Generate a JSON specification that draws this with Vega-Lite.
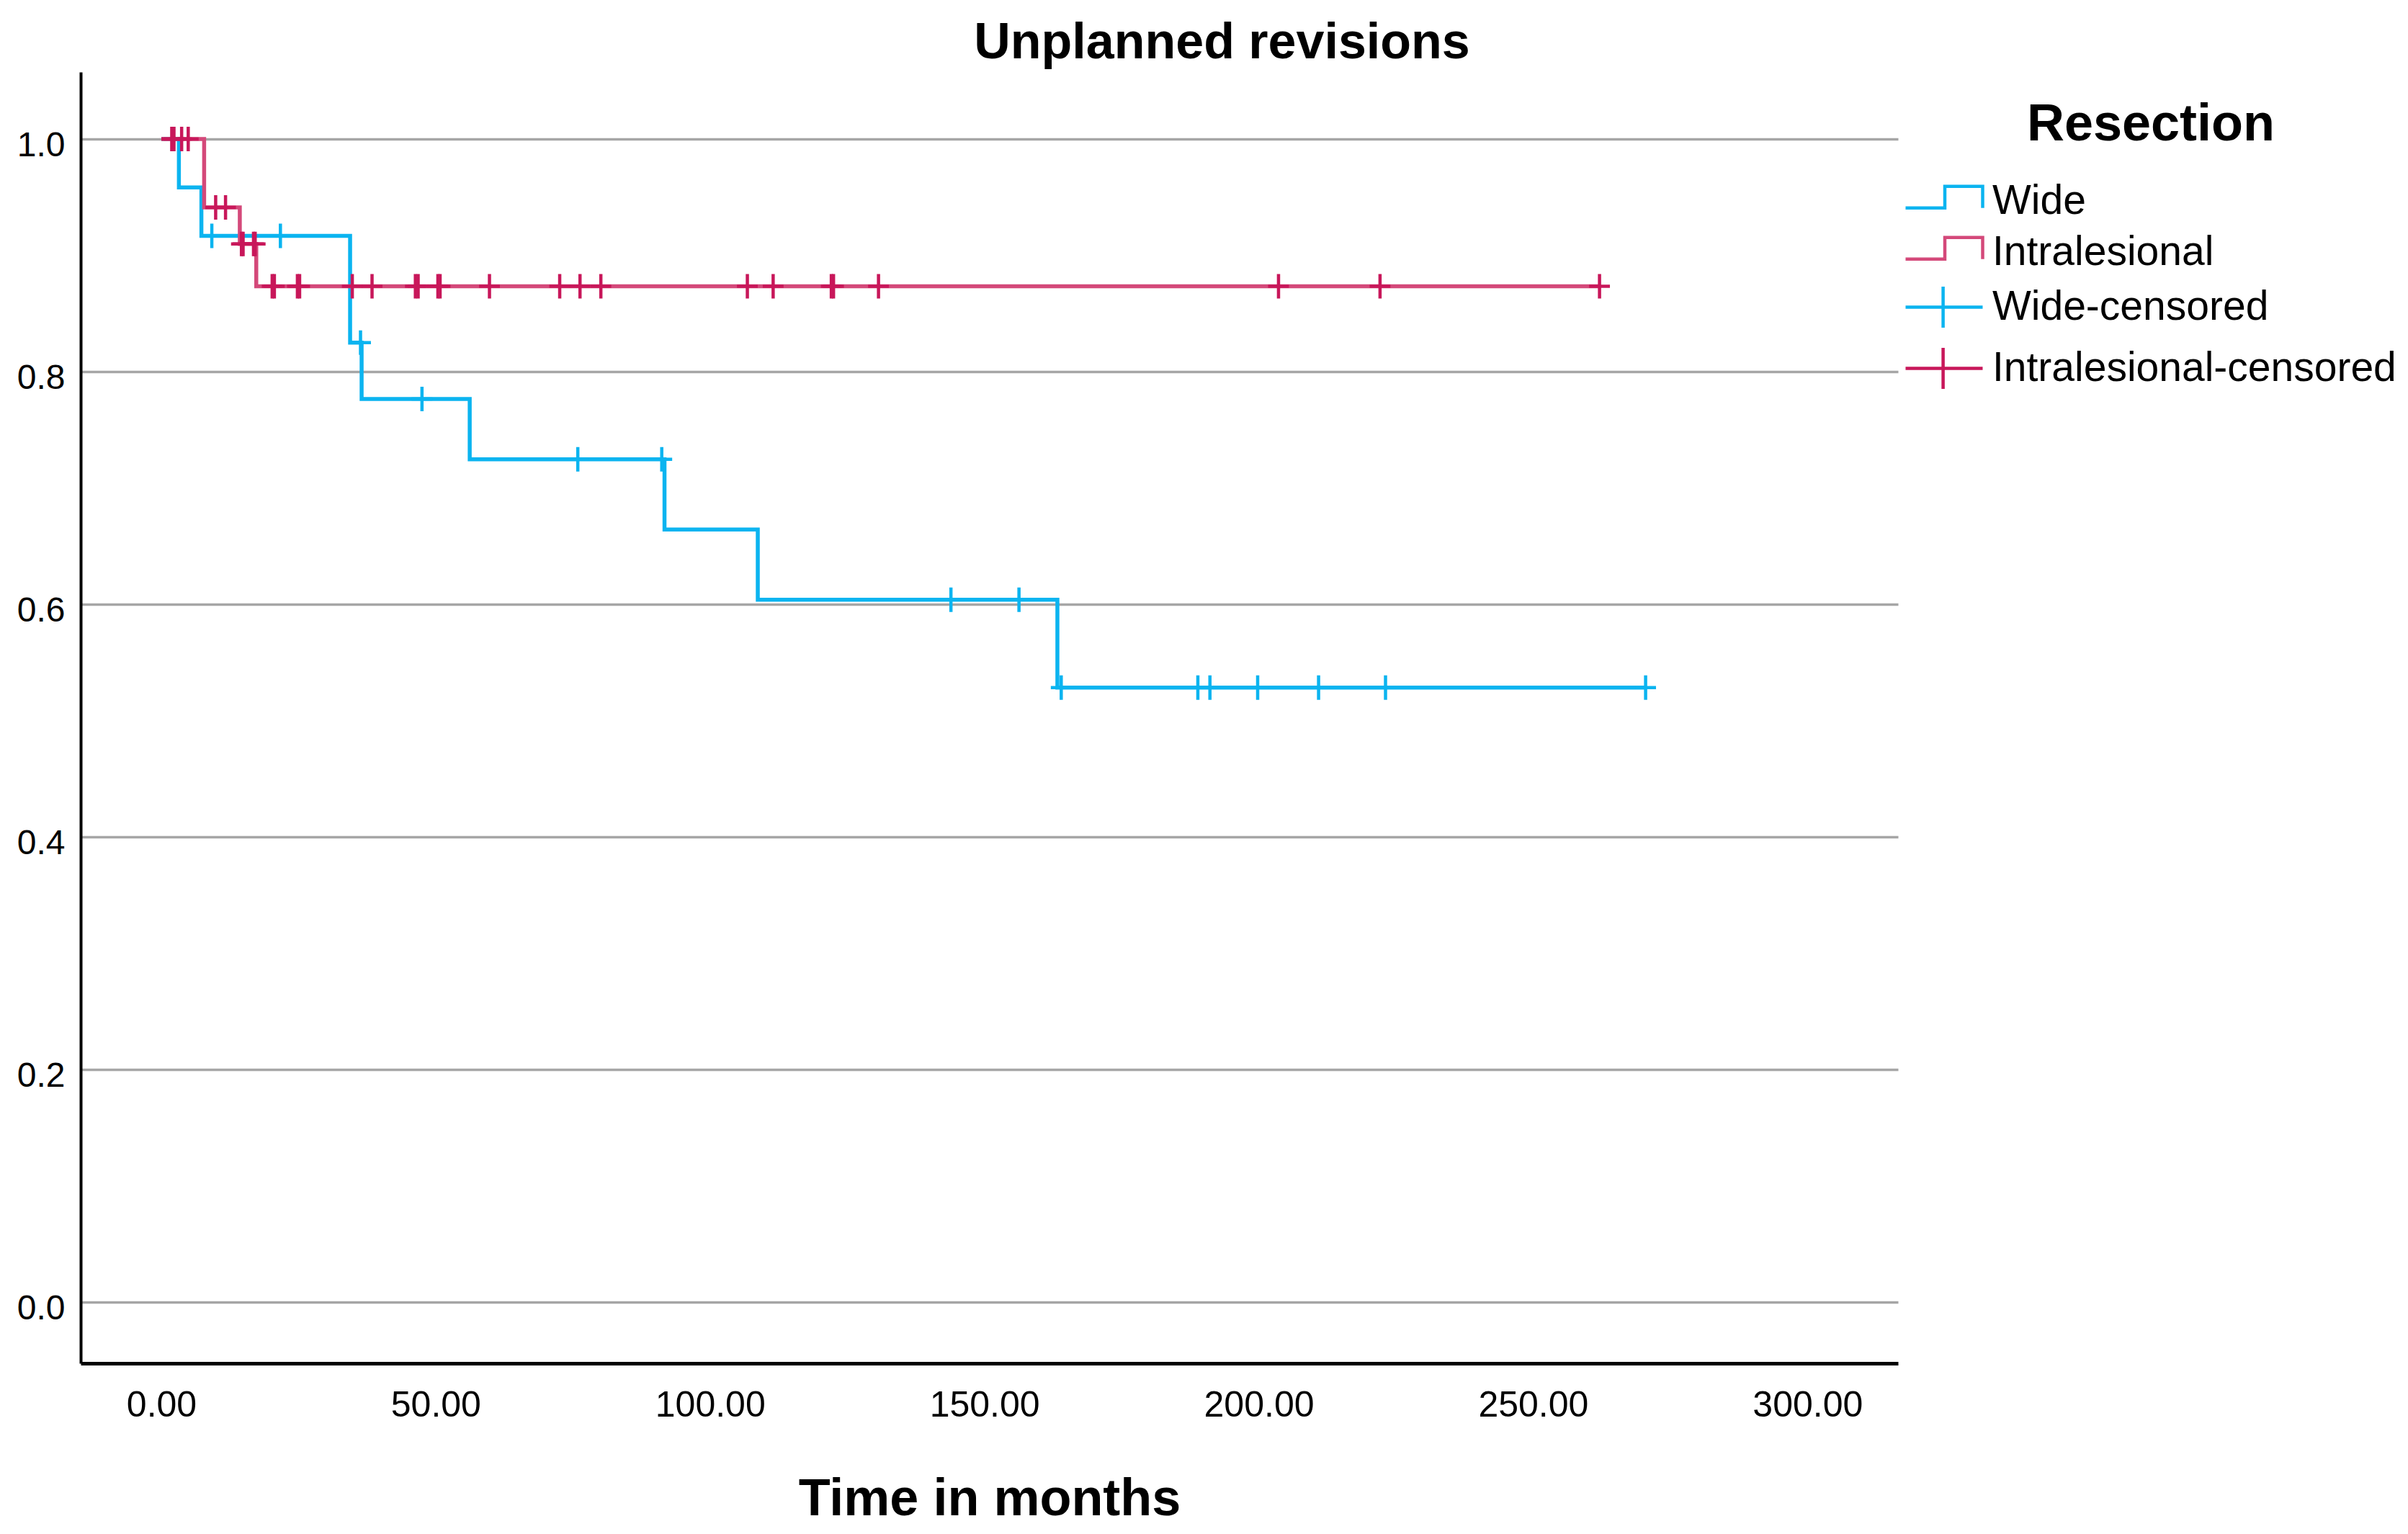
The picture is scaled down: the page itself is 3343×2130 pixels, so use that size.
{
  "$schema": "https://vega.github.io/schema/vega-lite/v6.json",
  "width": 2523,
  "height": 1793,
  "autosize": {"type": "none"},
  "padding": {"left": 112, "top": 100, "right": 708, "bottom": 237},
  "background": "white",
  "config": {
    "font": "Liberation Sans",
    "view": {"stroke": null},
    "axis": {"labelFont": "Liberation Sans", "titleFont": "Liberation Sans", "labelColor": "black", "titleColor": "black"},
    "legend": {"labelFont": "Liberation Sans", "titleFont": "Liberation Sans"}
  },
  "title": {
    "text": "Unplanned revisions",
    "font": "Liberation Sans",
    "fontSize": 70,
    "fontWeight": "bold",
    "color": "black",
    "anchor": "middle",
    "frame": "group",
    "dx": 323,
    "offset": 4
  },
  "data": {
    "values": [
      {"series": "Wide", "kind": "line", "time": 0, "surv": 1},
      {"series": "Wide", "kind": "line", "time": 3.2, "surv": 0.9583},
      {"series": "Wide", "kind": "line", "time": 7.3, "surv": 0.9167},
      {"series": "Wide", "kind": "line", "time": 34.4, "surv": 0.825},
      {"series": "Wide", "kind": "line", "time": 36.5, "surv": 0.7765},
      {"series": "Wide", "kind": "line", "time": 56.2, "surv": 0.7247},
      {"series": "Wide", "kind": "line", "time": 91.7, "surv": 0.6643},
      {"series": "Wide", "kind": "line", "time": 108.7, "surv": 0.6039},
      {"series": "Wide", "kind": "line", "time": 163.3, "surv": 0.5284},
      {"series": "Wide", "kind": "line", "time": 270.5, "surv": 0.5284},
      {"series": "Intralesional", "kind": "line", "time": 0, "surv": 1},
      {"series": "Intralesional", "kind": "line", "time": 7.8, "surv": 0.9412},
      {"series": "Intralesional", "kind": "line", "time": 14.3, "surv": 0.9098},
      {"series": "Intralesional", "kind": "line", "time": 17.3, "surv": 0.8734},
      {"series": "Intralesional", "kind": "line", "time": 262.1, "surv": 0.8734},
      {"series": "Wide-censored", "kind": "censor", "time": 9.2, "surv": 0.9167},
      {"series": "Wide-censored", "kind": "censor", "time": 21.7, "surv": 0.9167},
      {"series": "Wide-censored", "kind": "censor", "time": 36.3, "surv": 0.825},
      {"series": "Wide-censored", "kind": "censor", "time": 47.5, "surv": 0.7765},
      {"series": "Wide-censored", "kind": "censor", "time": 75.9, "surv": 0.7247},
      {"series": "Wide-censored", "kind": "censor", "time": 91.2, "surv": 0.7247},
      {"series": "Wide-censored", "kind": "censor", "time": 143.9, "surv": 0.6039},
      {"series": "Wide-censored", "kind": "censor", "time": 156.3, "surv": 0.6039},
      {"series": "Wide-censored", "kind": "censor", "time": 164.0, "surv": 0.5284},
      {"series": "Wide-censored", "kind": "censor", "time": 188.9, "surv": 0.5284},
      {"series": "Wide-censored", "kind": "censor", "time": 191.1, "surv": 0.5284},
      {"series": "Wide-censored", "kind": "censor", "time": 199.8, "surv": 0.5284},
      {"series": "Wide-censored", "kind": "censor", "time": 210.9, "surv": 0.5284},
      {"series": "Wide-censored", "kind": "censor", "time": 223.1, "surv": 0.5284},
      {"series": "Wide-censored", "kind": "censor", "time": 270.5, "surv": 0.5284},
      {"series": "Intralesional-censored", "kind": "censor", "time": 1.9, "surv": 1},
      {"series": "Intralesional-censored", "kind": "censor", "time": 2.3, "surv": 1},
      {"series": "Intralesional-censored", "kind": "censor", "time": 3.7, "surv": 1},
      {"series": "Intralesional-censored", "kind": "censor", "time": 4.9, "surv": 1},
      {"series": "Intralesional-censored", "kind": "censor", "time": 9.9, "surv": 0.9412},
      {"series": "Intralesional-censored", "kind": "censor", "time": 11.7, "surv": 0.9412},
      {"series": "Intralesional-censored", "kind": "censor", "time": 14.6, "surv": 0.9098},
      {"series": "Intralesional-censored", "kind": "censor", "time": 14.9, "surv": 0.9098},
      {"series": "Intralesional-censored", "kind": "censor", "time": 16.8, "surv": 0.9098},
      {"series": "Intralesional-censored", "kind": "censor", "time": 17.1, "surv": 0.9098},
      {"series": "Intralesional-censored", "kind": "censor", "time": 20.2, "surv": 0.8734},
      {"series": "Intralesional-censored", "kind": "censor", "time": 20.6, "surv": 0.8734},
      {"series": "Intralesional-censored", "kind": "censor", "time": 24.8, "surv": 0.8734},
      {"series": "Intralesional-censored", "kind": "censor", "time": 25.2, "surv": 0.8734},
      {"series": "Intralesional-censored", "kind": "censor", "time": 34.8, "surv": 0.8734},
      {"series": "Intralesional-censored", "kind": "censor", "time": 38.4, "surv": 0.8734},
      {"series": "Intralesional-censored", "kind": "censor", "time": 46.3, "surv": 0.8734},
      {"series": "Intralesional-censored", "kind": "censor", "time": 46.8, "surv": 0.8734},
      {"series": "Intralesional-censored", "kind": "censor", "time": 50.4, "surv": 0.8734},
      {"series": "Intralesional-censored", "kind": "censor", "time": 50.8, "surv": 0.8734},
      {"series": "Intralesional-censored", "kind": "censor", "time": 59.8, "surv": 0.8734},
      {"series": "Intralesional-censored", "kind": "censor", "time": 72.6, "surv": 0.8734},
      {"series": "Intralesional-censored", "kind": "censor", "time": 76.3, "surv": 0.8734},
      {"series": "Intralesional-censored", "kind": "censor", "time": 80.1, "surv": 0.8734},
      {"series": "Intralesional-censored", "kind": "censor", "time": 106.8, "surv": 0.8734},
      {"series": "Intralesional-censored", "kind": "censor", "time": 111.5, "surv": 0.8734},
      {"series": "Intralesional-censored", "kind": "censor", "time": 122.1, "surv": 0.8734},
      {"series": "Intralesional-censored", "kind": "censor", "time": 122.5, "surv": 0.8734},
      {"series": "Intralesional-censored", "kind": "censor", "time": 130.7, "surv": 0.8734},
      {"series": "Intralesional-censored", "kind": "censor", "time": 203.6, "surv": 0.8734},
      {"series": "Intralesional-censored", "kind": "censor", "time": 222.1, "surv": 0.8734},
      {"series": "Intralesional-censored", "kind": "censor", "time": 262.1, "surv": 0.8734}
    ]
  },
  "encoding": {
    "x": {
      "field": "time",
      "type": "quantitative",
      "scale": {"domain": [-14.7, 316.5], "nice": false, "zero": false},
      "axis": {
        "values": [0, 50, 100, 150, 200, 250, 300],
        "format": ".2f",
        "labelFontSize": 50,
        "labelPadding": 33,
        "ticks": false,
        "tickSize": 0,
        "grid": false,
        "domainColor": "black",
        "domainWidth": 5,
        "labelFlush": false,
        "title": "Time in months",
        "titleFontSize": 72,
        "titleFontWeight": "bold",
        "titlePadding": 70
      }
    },
    "y": {
      "field": "surv",
      "type": "quantitative",
      "scale": {"domain": [-0.0526, 1.0576], "nice": false, "zero": false},
      "axis": {
        "values": [0, 0.2, 0.4, 0.6, 0.8, 1.0],
        "format": ".1f",
        "labelFontSize": 48,
        "labelPadding": 22,
        "labelOffset": 9,
        "labelFlush": false,
        "ticks": false,
        "tickSize": 0,
        "grid": true,
        "gridColor": "#a6a6a6",
        "gridWidth": 3.5,
        "domainColor": "black",
        "domainWidth": 4,
        "title": null
      }
    },
    "color": {
      "field": "series",
      "type": "nominal",
      "scale": {
        "domain": ["Wide", "Intralesional", "Wide-censored", "Intralesional-censored"],
        "range": ["#0bb4f0", "#d4497a", "#0bb4f0", "#c8175a"]
      },
      "legend": {
        "orient": "none",
        "legendX": 2533,
        "legendY": 38,
        "padding": 0,
        "title": "Resection",
        "titleFontSize": 72,
        "titleFontWeight": "bold",
        "titleColor": "black",
        "titleAnchor": "middle",
        "titleAlign": "center",
        "titleLimit": 2000,
        "titlePadding": 37,
        "labelFontSize": 57,
        "labelColor": "black",
        "labelLimit": 2000,
        "labelOffset": 56,
        "symbolSize": 3600,
        "symbolStrokeWidth": 4,
        "rowPadding": 10,
        "encode": {
          "symbols": {
            "update": {
              "shape": {"signal": "(datum.value == 'Wide' || datum.value == 'Intralesional') ? 'M-1.067,0.31H0.75V-0.69H2.5V0.31' : 'M-1.067,0H2.5M0.67,-0.95V0.95'"},
              "stroke": {"signal": "(datum.value == 'Wide' || datum.value == 'Wide-censored') ? '#0bb4f0' : '#d4497a'"},
              "fill": {"value": "transparent"},
              "strokeWidth": {"value": 4.5},
              "opacity": {"value": 1}
            }
          }
        }
      }
    }
  },
  "layer": [
    {
      "transform": [{"filter": "datum.kind == 'line'"}],
      "mark": {"type": "line", "interpolate": "step-after", "strokeWidth": 5.5}
    },
    {
      "transform": [{"filter": "datum.kind == 'censor'"}],
      "mark": {"type": "point", "shape": "M-0.85,0H0.85M0,-1V1", "filled": false, "size": 1156, "strokeWidth": 4.5, "opacity": 1}
    }
  ]
}
